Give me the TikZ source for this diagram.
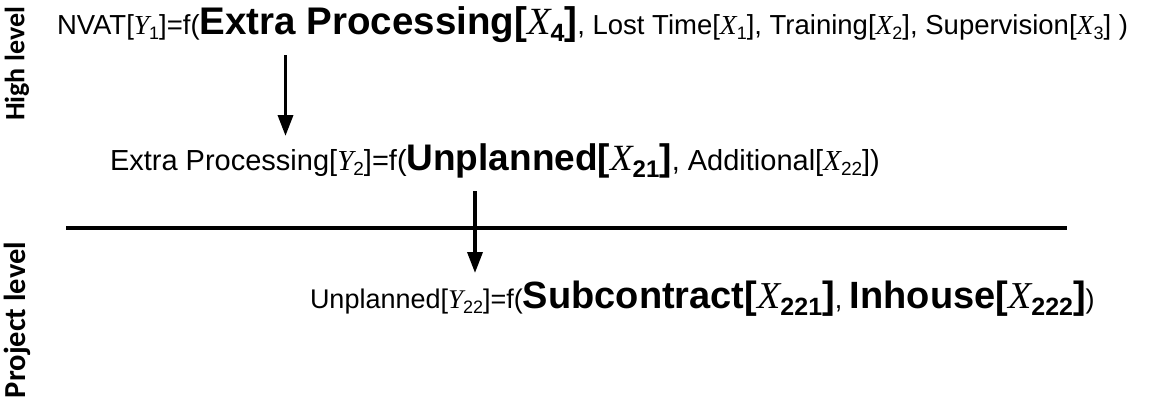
\documentclass[tikz,border=0pt]{standalone}
\usepackage{fontspec}
\setmainfont{Liberation Sans}
\newfontfamily\tmsfont{Liberation Serif}
\newfontfamily\lblfont{Carlito}
\usetikzlibrary{arrows.meta}
\newcommand\myvar[3]{{\tmsfont\itshape\mdseries #2}\raisebox{-.2em}{\fontsize{#1}{#1}\selectfont #3}}
\newcommand\fs[1]{\fontsize{#1}{#1}\selectfont}
\tikzset{
  eqn/.style={anchor=base west, inner sep=0pt, outer sep=0pt},
  arr/.style={line width=3.5pt, -{Triangle[length=21pt,width=15pt]}},
  sep/.style={line width=4pt},
  lvl/.style={rotate=90, inner sep=0pt, font=\lblfont\bfseries}
}
\begin{document}
\begin{tikzpicture}[x=1pt,y=-1pt]
\useasboundingbox (0,0) rectangle (1175,405);
\node[lvl] (high) at (17,64) {\fs{28}High level};
\node[lvl] (proj) at (17,320) {\fs{30.5}Project level};
\node[eqn] (l1) at (57,34) {\fs{27.5}NVAT[\myvar{18}{Y}{1}]=f(\fs{38.5}\bfseries Extra Processing[\myvar{25}{X}{4}]\mdseries\fs{27.5}, Lost Time[\myvar{18}{X}{1}], Training[\myvar{18}{X}{2}], Supervision[\myvar{18}{X}{3}] )};
\node[eqn] (l2) at (110,170) {\fs{29}Extra Processing[\myvar{19}{Y}{2}]=f(\fs{37}\bfseries Unplanned[\myvar{24}{X}{21}]\mdseries\fs{29}, Additional[\myvar{19}{X}{22}])};
\node[eqn] (l3) at (310,308) {\fs{27}Unplanned[\myvar{18}{Y}{22}]=f(\fs{38}\bfseries Subcontract[\myvar{25}{X}{221}]\mdseries\fs{27}, \fs{38}\bfseries Inhouse[\myvar{25}{X}{222}]\mdseries\fs{27})};
\coordinate (a1s) at (285.5,55);
\coordinate (a1e) at (285.5,136);
\coordinate (a2s) at (475,191);
\coordinate (a2e) at (475,273);
\coordinate (hL) at (66,228);
\coordinate (hR) at (1067,228);
\draw[sep] (hL) -- (hR);
\draw[arr] (a1s) -- (a1e);
\draw[arr] (a2s) -- (a2e);
\end{tikzpicture}
\end{document}
